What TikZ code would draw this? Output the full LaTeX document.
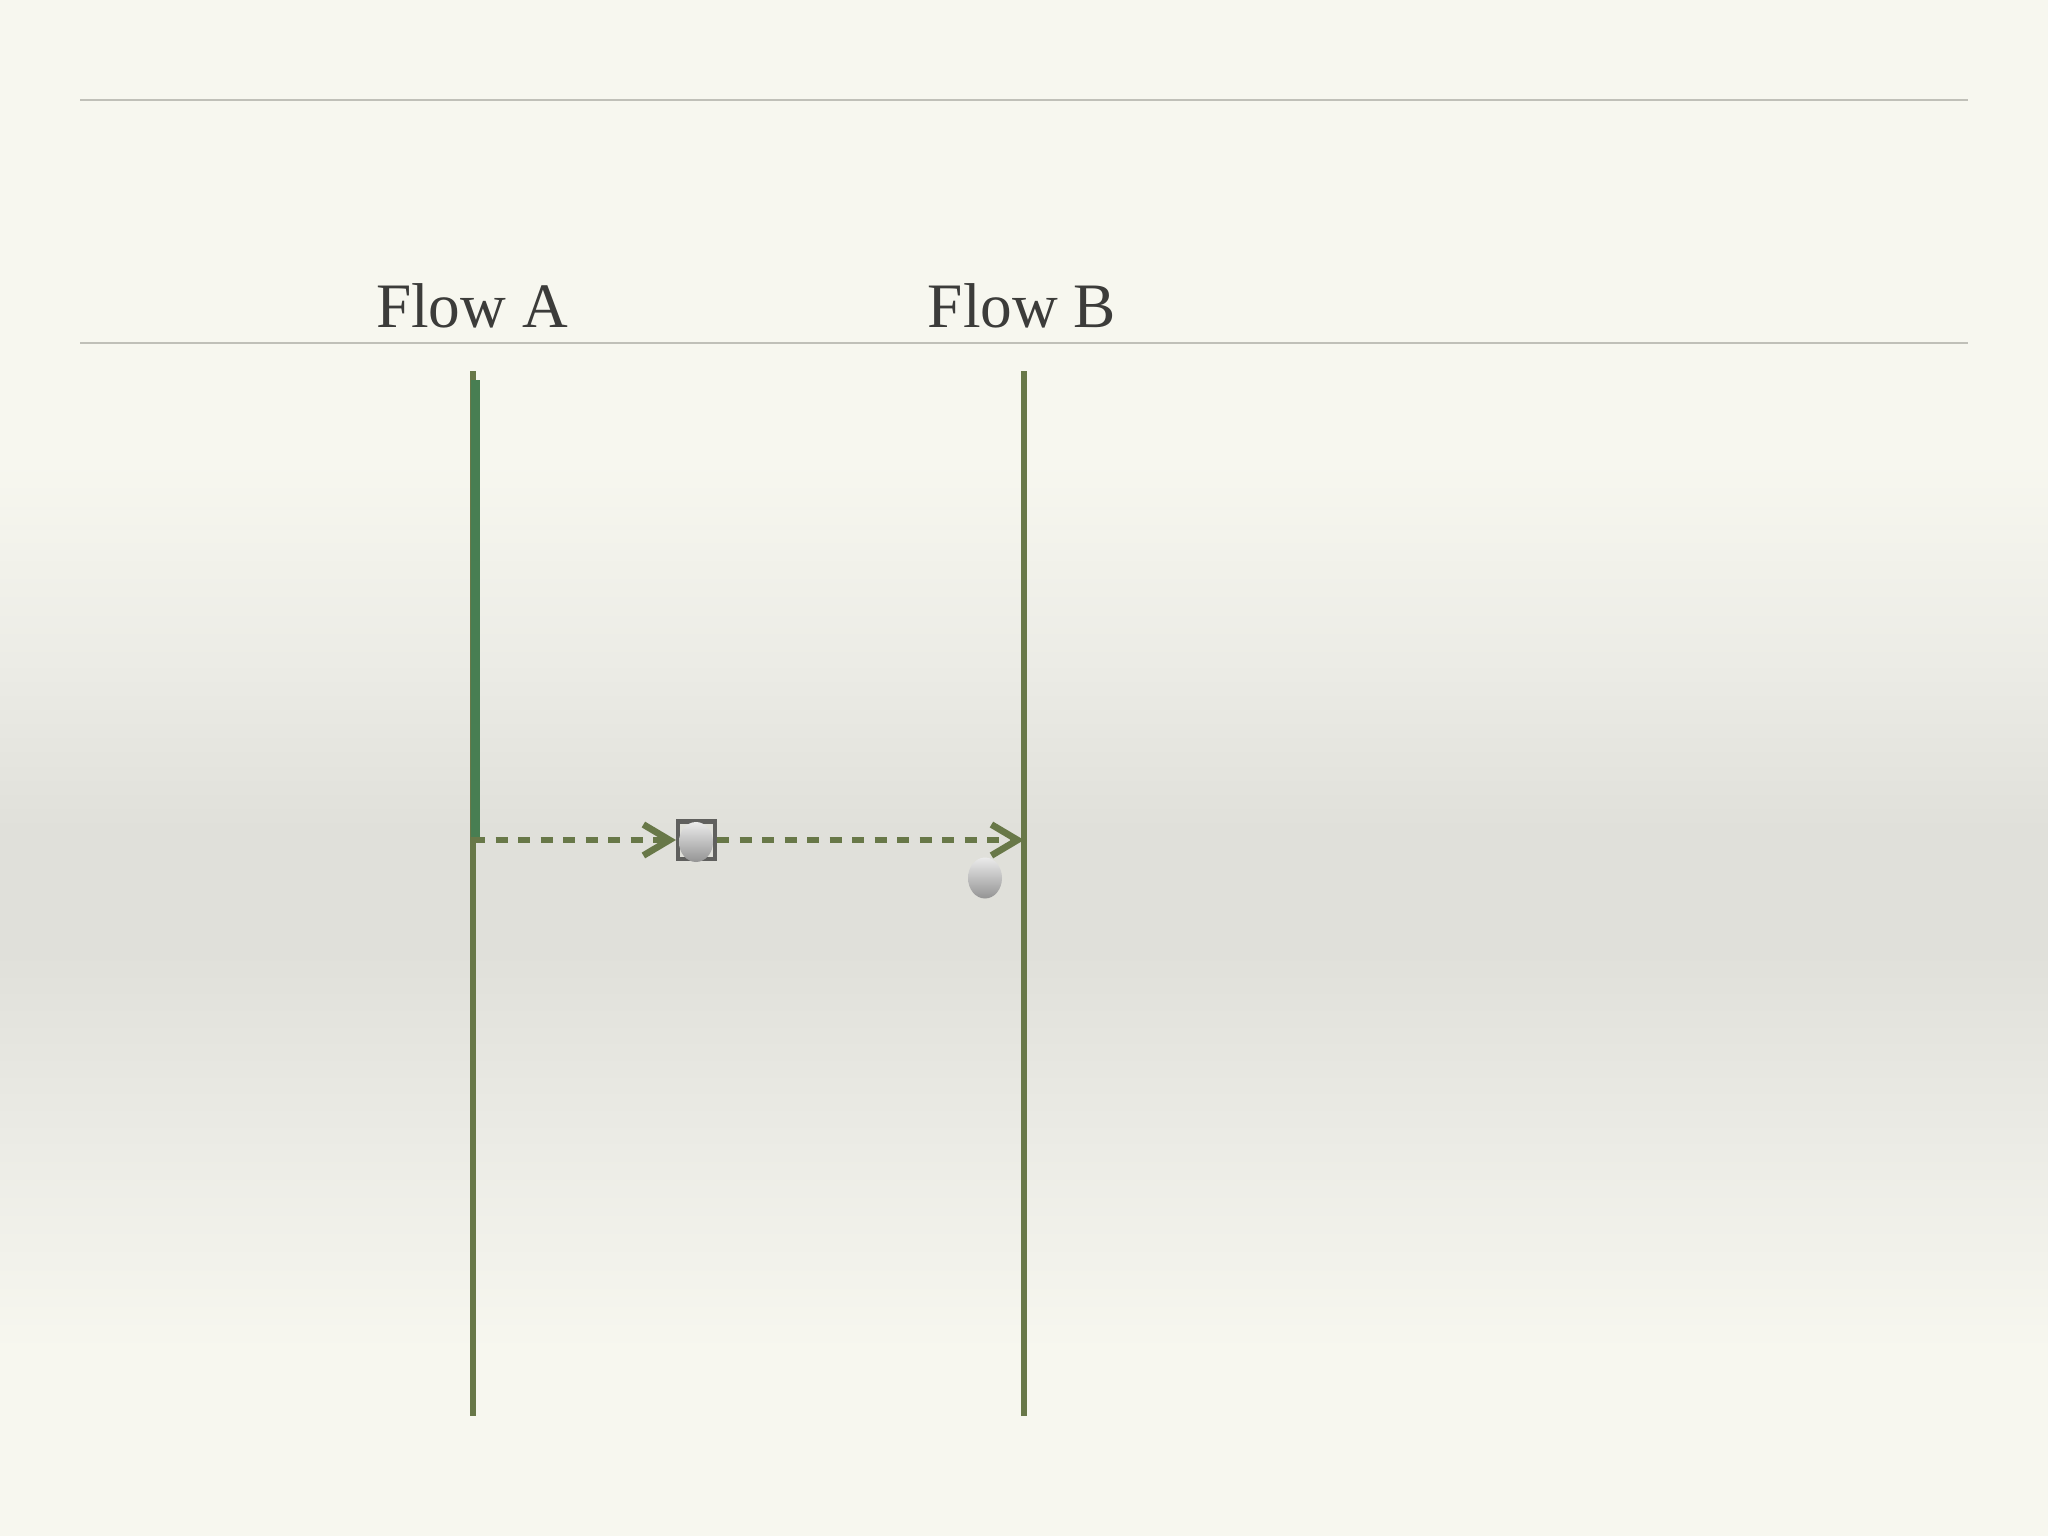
\documentclass[tikz,border=0pt]{standalone}
\usepackage{fontspec}
\setmainfont{Liberation Serif}
\usetikzlibrary{arrows.meta}

\definecolor{cream}{RGB}{247,247,239}
\definecolor{greyband}{RGB}{224,224,218}
\definecolor{greymid}{RGB}{236,236,230}
\definecolor{rulegrey}{RGB}{192,192,184}
\definecolor{olive}{RGB}{104,120,72}
\definecolor{flowgreen}{RGB}{72,126,82}
\definecolor{textgrey}{RGB}{60,60,58}
\definecolor{boxgrey}{RGB}{96,96,94}

% tikz maps 25bp..75bp of the shading onto the path
\pgfdeclareverticalshading{slidebg}{100bp}{color(0bp)=(cream); color(31bp)=(cream); color(37.5bp)=(greymid); color(44bp)=(greyband); color(48bp)=(greyband); color(53.5bp)=(greymid); color(60bp)=(cream); color(100bp)=(cream)}

\tikzset{
	lane/.style={draw=olive, line width=1.6pt},
	msgline/.style={draw=olive, line width=1.9pt, dash pattern=on 0.12cm off 0.105cm, -{Straight Barb[length=7.4pt,width=8.8pt,line width=1.9pt]}},
	title/.style={anchor=base, inner sep=0pt, text=textgrey, font=\fontsize{18}{22}\selectfont},
	blob/.style={top color=black!8, bottom color=black!42}
}

\begin{document}
\begin{tikzpicture}[x=0.01cm, y=-0.01cm]
		\shade[shading=slidebg] (0,0) rectangle (2048,1536);
		\useasboundingbox (0,0) rectangle (2048,1536);
		\draw[rulegrey, line width=0.6pt] (80,100) -- (1968,100);
		\draw[rulegrey, line width=0.6pt] (80,343) -- (1968,343);
		
		\node[title] (flowA) at (472,327) {Flow A};
		\node[title] (flowB) at (1022,327) {Flow B};
		
		\coordinate (aTop) at (473,371);
		\coordinate (aBot) at (473,1416);
		\coordinate (bTop) at (1024,371);
		\coordinate (bBot) at (1024,1416);
		\draw[lane] (aTop) -- (aBot);
		\draw[lane] (bTop) -- (bBot);
		\fill[flowgreen] (471,380) rectangle (480,837);
		
		\coordinate (aSend) at (473,840);
		\coordinate (bRecv) at (1024,840);
		\node[rectangle, draw=boxgrey, line width=1.15pt, fill=greyband, minimum size=0.37cm, inner sep=0pt] (msgbox) at (696.5,840) {};
		\shade[blob] (696,842) ellipse (17 and 20);
		\draw[msgline] (aSend) -- (msgbox.west);
		\draw[msgline] (msgbox.east) -- (bRecv);
		
		\shade[blob] (985,878) ellipse (17 and 20.5);
	\end{tikzpicture}
\end{document}
